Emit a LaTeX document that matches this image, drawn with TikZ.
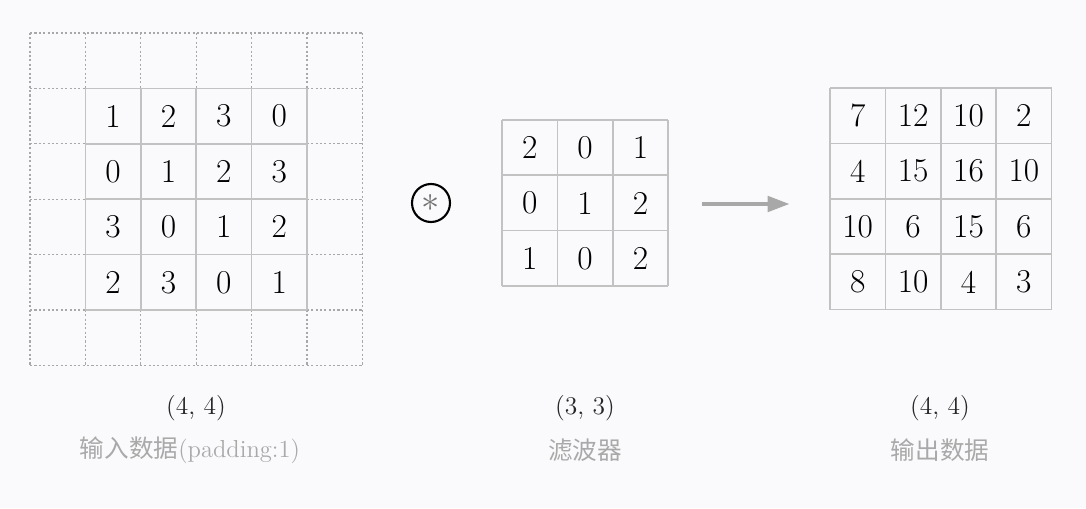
\documentclass[tikz,border=0pt]{standalone}
\usepackage{fontspec}
\newfontfamily\cjk{Noto Sans CJK SC}
\usetikzlibrary{arrows.meta}
\definecolor{bgcol}{HTML}{FAFAFC}
\definecolor{gridcol}{HTML}{C2C2C2}
\definecolor{padcol}{HTML}{A8A8A8}
\definecolor{arrcol}{HTML}{A8A8A8}
\definecolor{labcol}{HTML}{A9A9A9}
\tikzset{
  cell/.style={minimum size=1.108cm, inner sep=0pt, font=\fontsize{19}{21}\selectfont},
  gridline/.style={draw=gridcol, line width=0.9pt},
  padline/.style={draw=padcol, line width=0.6pt, dash pattern=on 1.2pt off 1.3pt},
  dims/.style={font=\fontsize{14.5}{16}\selectfont, text=black!85},
  caption/.style={font=\fontsize{14}{16}\selectfont, text=labcol},
}

\begin{document}
\begin{tikzpicture}[x=0.02cm,y=0.02cm]
\fill[bgcol] (0,0) rectangle (1086,508);

% padding ring
\foreach \k in {0,...,6} {
  \draw[padline] (30+55.4*\k,475) -- (30+55.4*\k,142.6);
  \draw[padline] (30,475-55.4*\k) -- (362.4,475-55.4*\k);
}

% input data
\fill[bgcol] (85.4,419.6) rectangle (307,198);
\draw[gridline, xstep=55.4, ystep=55.4, shift={(85.4,198)}] (0,0) grid (221.6,221.6);
\foreach \row [count=\r] in {{1,2,3,0},{0,1,2,3},{3,0,1,2},{2,3,0,1}}
  \foreach \v [count=\c] in \row
    \node[cell] (in-\r-\c) at (57.7+55.4*\c, 447.3-55.4*\r) {\v};

% filter
\draw[gridline, xstep=55.4, ystep=55.4, shift={(502,222)}] (0,0) grid (166.2,166.2);
\foreach \row [count=\r] in {{2,0,1},{0,1,2},{1,0,2}}
  \foreach \v [count=\c] in \row
    \node[cell] (fil-\r-\c) at (474.3+55.4*\c, 415.7-55.4*\r) {\v};

% output data
\draw[gridline, xstep=55.4, ystep=55.4, shift={(830,198.4)}] (0,0) grid (221.6,221.6);
\foreach \row [count=\r] in {{7,12,10,2},{4,15,16,10},{10,6,15,6},{8,10,4,3}}
  \foreach \v [count=\c] in \row
    \node[cell] (out-\r-\c) at (802.3+55.4*\c, 447.7-55.4*\r) {\v};

\node[draw, circle, line width=1.2pt, minimum size=0.76cm, inner sep=0pt,
  font=\fontsize{21}{21}\selectfont, text=black!55] (conv) at (431,305) {$\ast$};

\coordinate (arrS) at (702,304);
\coordinate (arrE) at (790,304);
\draw[arrcol, line width=2.8pt, -{Triangle[length=0.45cm, width=0.3cm]}] (arrS) -- (arrE);

\node[dims] (indim) at (196,100) {(4, 4)};
\node[caption] (incap) at (190,58) {{\cjk 输入数据}(padding:1)};
\node[dims] (fildim) at (585,100) {(3, 3)};
\node[caption] (filcap) at (585,58) {\cjk 滤波器};
\node[dims] (outdim) at (940,100) {(4, 4)};
\node[caption] (outcap) at (940,58) {\cjk 输出数据};
\end{tikzpicture}
\end{document}
